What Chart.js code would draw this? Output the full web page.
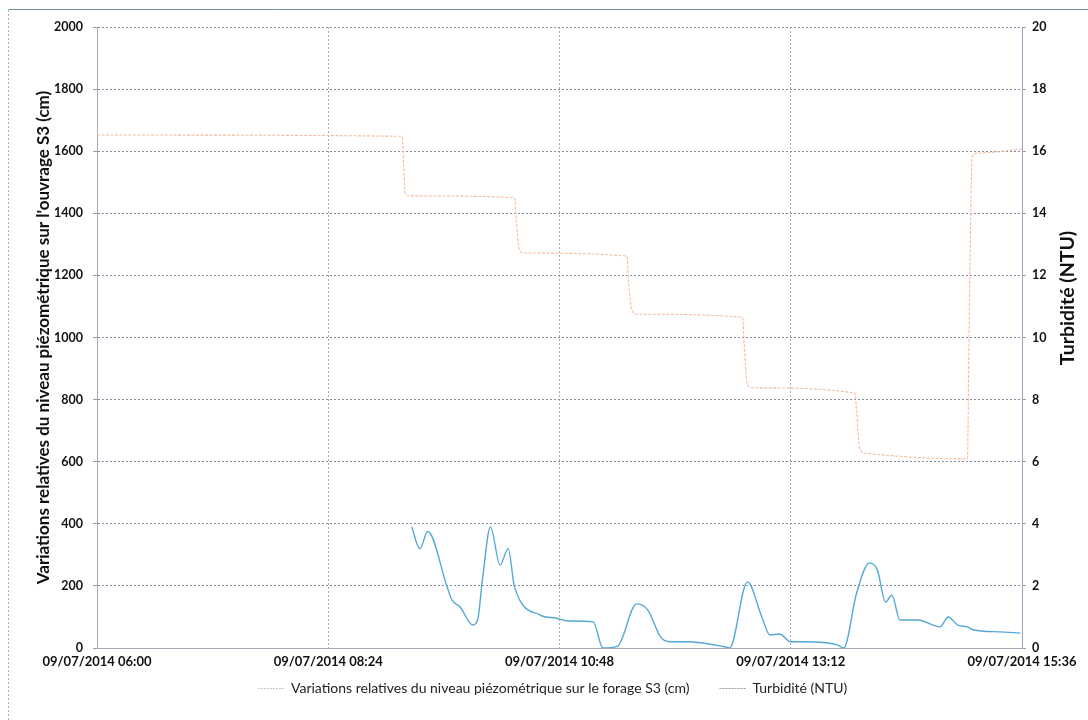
<!DOCTYPE html>
<html>
<head>
<meta charset="utf-8">
<script src="https://cdn.jsdelivr.net/npm/chart.js@4/dist/chart.umd.min.js"></script>
<style>
  html, body { margin: 0; padding: 0; background: #fff; }
  #wrap { width: 1088px; height: 720px; position: relative; }
</style>
</head>
<body>
<div id="wrap"><canvas id="c" width="1088" height="720"></canvas></div>
<script>
// Day of the record and time axis ticks
const dateLabel = '09/07/2014';
const xTickTimes = ['06:00', '08:24', '10:48', '13:12', '15:36'];

// Relative piezometric level in borehole S3 (cm)
const piezoTimes = ['06:00', '09:10', '09:11', '09:12', '09:15', '10:20', '10:21', '10:23', '10:26',
  '11:30', '11:31', '11:33', '11:36', '12:42', '12:43', '12:45', '12:48', '13:52', '13:53', '13:55',
  '13:59', '15:02', '15:03', '15:05', '15:09', '15:36'];
const piezoValues = [1652, 1648, 1550, 1462, 1456, 1450, 1380, 1285, 1272,
  1262, 1180, 1090, 1075, 1065, 980, 850, 838, 821, 760, 640,
  627, 609, 1000, 1585, 1594, 1607];

// Turbidity (NTU)
const turbTimes = ['09:16', '09:21', '09:26', '09:38', '09:41', '09:46', '09:54', '09:57', '10:00',
  '10:05', '10:11', '10:16', '10:20', '10:36', '10:46', '10:53', '11:09', '11:15', '11:24', '11:36',
  '11:43', '11:51', '11:57', '12:07', '12:30', '12:34', '12:45', '12:54', '12:59', '13:05', '13:12',
  '13:21', '13:41', '13:45', '13:53', '14:01', '14:06', '14:11', '14:15', '14:20', '14:31', '14:45',
  '14:50', '14:56', '15:02', '15:06', '15:22', '15:35'];
const turbValues = [3.9, 3.2, 3.75, 1.97, 1.55, 1.33, 0.74, 0.9, 2.19,
  3.9, 2.67, 3.2, 1.97, 1.06, 0.96, 0.87, 0.84, 0, 0.05, 1.42,
  1.22, 0.35, 0.2, 0.2, 0.05, 0, 2.13, 1.0, 0.42, 0.45, 0.2,
  0.2, 0.1, 0, 1.77, 2.74, 2.5, 1.48, 1.7, 0.9, 0.9, 0.68,
  1.0, 0.74, 0.68, 0.58, 0.52, 0.48];

const piezoLabel = 'Variations relatives du niveau piézométrique sur le forage S3 (cm)';
const turbLabel = 'Turbidité (NTU)';
const leftTitle = "Variations relatives du niveau piézométrique sur l'ouvrage S3 (cm)";
const rightTitle = 'Turbidité (NTU)';

const FONT = 'Lato, "Open Sans", "DejaVu Sans", sans-serif';
const startMin = toMinutes(xTickTimes[0]);
const endMin = toMinutes(xTickTimes[xTickTimes.length - 1]);

function toMinutes(t) {
  const [h, m] = t.split(':').map(Number);
  return h * 60 + m;
}
function fmtTime(min) {
  const total = Math.round(min);
  const h = Math.floor(total / 60), m = total % 60;
  return String(h).padStart(2, '0') + ':' + String(m).padStart(2, '0');
}
const asPoints = (times, values) => times.map((t, i) => ({ x: toMinutes(t) - startMin, y: values[i] }));

// Outer frame, rotated right-hand title and the legend below the axis
const decorations = {
  id: 'decorations',
  beforeDraw(chart) {
    const ctx = chart.ctx;
    ctx.save();
    ctx.lineWidth = 1;
    ctx.strokeStyle = '#a8acb4';
    ctx.setLineDash([2, 2]);
    ctx.beginPath(); ctx.moveTo(8.5, 720); ctx.lineTo(8.5, 9.5); ctx.stroke();
    ctx.setLineDash([]);
    ctx.strokeStyle = '#6f9096';
    ctx.beginPath(); ctx.moveTo(8.5, 9.5); ctx.lineTo(1088, 9.5); ctx.stroke();
    ctx.restore();
  },
  afterDraw(chart) {
    const ctx = chart.ctx;
    ctx.save();
    // right axis title, reading bottom to top
    ctx.translate(1068, 298);
    ctx.rotate(-Math.PI / 2);
    ctx.font = 'bold 19.5px ' + FONT;
    ctx.fillStyle = '#111';
    ctx.textAlign = 'center';
    ctx.textBaseline = 'middle';
    ctx.fillText(rightTitle, 0, 0);
    ctx.restore();

    // legend: short dotted sample line followed by the series name
    const colors = ['#c4c4c4', '#9c9c9c'];
    const y = 688.5;
    let x = 258;
    ctx.save();
    ctx.font = '14px ' + FONT;
    ctx.textBaseline = 'middle';
    ctx.textAlign = 'left';
    chart.data.datasets.forEach((ds, i) => {
      ctx.strokeStyle = colors[i];
      ctx.lineWidth = 1;
      ctx.setLineDash([2, 1]);
      ctx.beginPath(); ctx.moveTo(x, y); ctx.lineTo(x + 27, y); ctx.stroke();
      ctx.setLineDash([]);
      ctx.fillStyle = '#222';
      ctx.fillText(ds.label, x + 33, y);
      x += 33 + ctx.measureText(ds.label).width + 30;
    });
    ctx.restore();
  }
};

new Chart(document.getElementById('c'), {
  type: 'line',
  data: {
    datasets: [
      {
        label: piezoLabel,
        data: asPoints(piezoTimes, piezoValues),
        yAxisID: 'y',
        borderColor: '#f3bc9c',
        borderWidth: 1.1,
        borderDash: [3, 1.5],
        pointRadius: 0,
        cubicInterpolationMode: 'monotone',
        fill: false
      },
      {
        label: turbLabel,
        data: asPoints(turbTimes, turbValues),
        yAxisID: 'y2',
        borderColor: '#55a8d6',
        borderWidth: 1.4,
        pointRadius: 0,
        cubicInterpolationMode: 'monotone',
        fill: false
      }
    ]
  },
  options: {
    responsive: false,
    animation: false,
    devicePixelRatio: 1,
    layout: { padding: { left: 33, right: 0, top: 27, bottom: 46 } },
    plugins: {
      legend: { display: false },
      tooltip: { enabled: false }
    },
    scales: {
      x: {
        type: 'linear',
        min: 0,
        max: endMin - startMin,
        afterBuildTicks(scale) {
          scale.ticks = xTickTimes.map(t => ({ value: toMinutes(t) - startMin }));
        },
        afterFit(scale) { scale.height = 26; },
        ticks: {
          autoSkip: false,
          maxRotation: 0,
          padding: 6,
          color: '#111',
          font: { family: FONT, size: 13, weight: 'bold' },
          callback: v => dateLabel + ' ' + fmtTime(startMin + v)
        },
        grid: { color: '#a9aab8', lineWidth: 1, drawTicks: false },
        border: { display: true, color: '#a9aab8', dash: [2, 2] }
      },
      y: {
        position: 'left',
        min: 0,
        max: 2000,
        afterFit(scale) { scale.width = 64; },
        ticks: {
          stepSize: 200,
          padding: 10,
          color: '#111',
          font: { family: FONT, size: 12.5, weight: 'bold' },
          callback: v => String(v)
        },
        grid: { color: '#868ba2', lineWidth: 1, tickLength: 4, tickColor: '#9a9a9a' },
        border: { display: true, color: '#a9aab8', dash: [2, 2] },
        title: {
          display: true,
          text: leftTitle,
          color: '#111',
          font: { family: FONT, size: 17, weight: 'bold' },
          padding: { top: 0, bottom: 0 }
        }
      },
      y2: {
        position: 'right',
        min: 0,
        max: 20,
        afterFit(scale) { scale.width = 66; },
        ticks: {
          stepSize: 2,
          padding: 6,
          color: '#111',
          font: { family: FONT, size: 12.5, weight: 'bold' },
          callback: v => String(v)
        },
        grid: { drawOnChartArea: false, tickLength: 4, tickColor: '#9a9a9a' },
        border: { display: true, color: '#9aa0b8', dash: [2, 2] }
      }
    }
  },
  plugins: [decorations]
});
</script>
</body>
</html>
